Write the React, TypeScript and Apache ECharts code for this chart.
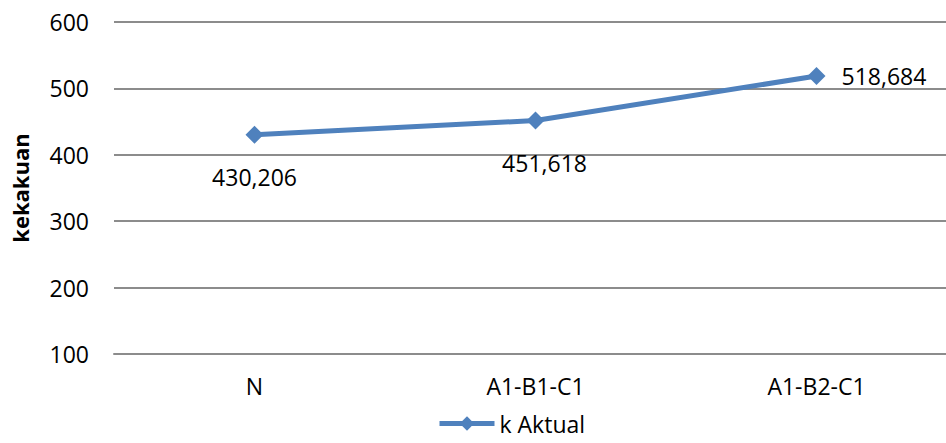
import React, { useEffect, useRef } from "react";
import * as echarts from "echarts";

const categories = ["N", "A1-B1-C1", "A1-B2-C1"];
const kAktual = [430.206, 451.618, 518.684];
const labelPositions = ["bottom", "bottom", "right"];
const yTicks = [100, 200, 300, 400, 500, 600];

const FONT = "'Open Sans', 'Noto Sans', sans-serif";

export default function App() {
  const ref = useRef<HTMLDivElement>(null);
  useEffect(() => {
    if (!ref.current) return;
    const chart = echarts.init(ref.current, undefined, { renderer: "svg" });
    chart.setOption({
      animation: false,
      textStyle: { fontFamily: FONT },
      grid: {
        left: 114,
        top: 22,
        width: 843,
        height: 332,
        containLabel: false,
        outerBoundsMode: "none",
      },
      legend: {
        data: ["k Aktual"],
        top: 412,
        left: 437,
        padding: 0,
        itemWidth: 55,
        itemHeight: 18,
        itemGap: 4,
        lineStyle: { width: 5 },
        textStyle: { fontSize: 23, lineHeight: 22, color: "#000", fontFamily: FONT },
      },
      xAxis: {
        type: "category",
        data: categories,
        boundaryGap: true,
        axisLine: { show: true, lineStyle: { color: "#8c8c8c", width: 2 } },
        axisTick: { show: false },
        axisLabel: { fontSize: 23, color: "#000", margin: 20, fontFamily: FONT },
      },
      yAxis: {
        type: "value",
        min: yTicks[0],
        max: yTicks[yTicks.length - 1],
        interval: 100,
        name: "kekakuan",
        nameLocation: "middle",
        nameGap: 83,
        nameTextStyle: { fontSize: 22, fontWeight: "bold", color: "#000", fontFamily: FONT },
        axisLine: { show: false },
        axisTick: { show: false },
        axisLabel: { fontSize: 23, color: "#000", margin: 25, fontFamily: FONT },
        splitLine: { lineStyle: { color: "#8c8c8c", width: 2 } },
      },
      series: [
        {
          name: "k Aktual",
          type: "line",
          data: kAktual.map((v, i) => ({
            value: v,
            label: {
              show: true,
              position: labelPositions[i],
              distance: i === 2 ? 16 : 22,
              offset: i === 1 ? [9, 0] : [0, 0],
            },
          })),
          symbol: "diamond",
          symbolSize: 18,
          lineStyle: { color: "#4F81BD", width: 5 },
          itemStyle: { color: "#4F81BD" },
          label: {
            show: true,
            fontSize: 23,
            color: "#000",
            fontFamily: FONT,
            formatter: (p: any) => p.value.toFixed(3).replace(".", ","),
          },
        },
      ],
    });
    return () => chart.dispose();
  }, []);
  return <div ref={ref} style={{ width: 946, height: 443, position: "absolute", left: 0, top: 0 }} />;
}
